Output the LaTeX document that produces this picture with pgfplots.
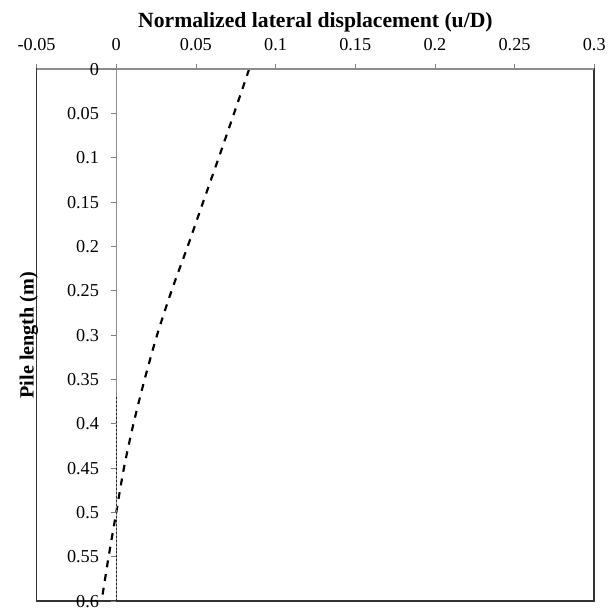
\documentclass[border=0pt]{standalone}
\usepackage{pgfplots}
\pgfplotsset{compat=1.18}
\usepackage{fontspec}
\setmainfont{Liberation Serif}
\begin{document}
\begin{tikzpicture}
\pgfplotsset{
  common/.style={
    scale only axis, height=538bp,
    ymin=0, ymax=0.6, y dir=reverse,
    /pgf/number format/assume math mode=true,
    /pgf/number format/fixed, /pgf/number format/precision=2,
    tick label style={font=\fontsize{18.5}{21}\selectfont},
    major tick length=5bp,
    tick style={black!50, line width=0.8pt},
  }
}
\begin{axis}[common, width=564bp, name=main,
  xmin=-0.05, xmax=0.3,
  axis line style={draw=black!80, line width=1.8pt},
  xtick={-0.05,0,0.05,0.1,0.15,0.2,0.25,0.3},
  xtick pos=top, xticklabel pos=top,
  xtick align=outside,
  ytick=\empty,
  xlabel={\textbf{Normalized lateral displacement (u/D)}},
  xlabel style={font=\fontsize{22}{24}\selectfont, yshift=0pt},
  ylabel={\textbf{Pile length (m)}},
  ylabel style={font=\fontsize{20.5}{23}\selectfont, yshift=-5pt},
  xticklabel style={yshift=10pt},
]
\addplot[black, line width=2.2pt, dash pattern=on 7bp off 7bp, smooth] table {
x y
0.0834 0
0.0739 0.05
0.0643 0.1
0.0545 0.15
0.0448 0.2
0.0347 0.25
0.0256 0.3
0.0178 0.35
0.0108 0.4
0.0048 0.45
0.0000 0.5
-0.0048 0.55
-0.0092 0.6
};
\end{axis}
\begin{axis}[common, width=564bp,
  xmin=-0.05, xmax=0.3,
  axis x line=top, axis y line=none,
  axis line style={draw=black!45, line width=1.9pt, -},
  xtick=\empty,
]
\addplot[draw=none] coordinates {(0,0)};
\end{axis}
\begin{axis}[common, width=483.43bp, at={(80.57bp,0)},
  xmin=0, xmax=0.3,
  axis x line=none,
  axis y line=left,
  axis line style={draw=black!45, line width=1.1pt, -},
  ytick={0,0.05,...,0.6},
  ytick align=outside,
  yticklabel style={xshift=-9pt},
  yticklabel={\pgfmathprintnumber{\tick}},
  clip=false,
]
\addplot[black!85, line width=1.4pt, dash pattern=on 2bp off 2bp] table {
x y
0 0.37
0 0.6
};
\end{axis}
\pgfresetboundingbox
\useasboundingbox ([xshift=-37bp,yshift=-13bp]main.south west) rectangle ([xshift=13bp,yshift=70bp]main.north east);
\end{tikzpicture}
\end{document}
